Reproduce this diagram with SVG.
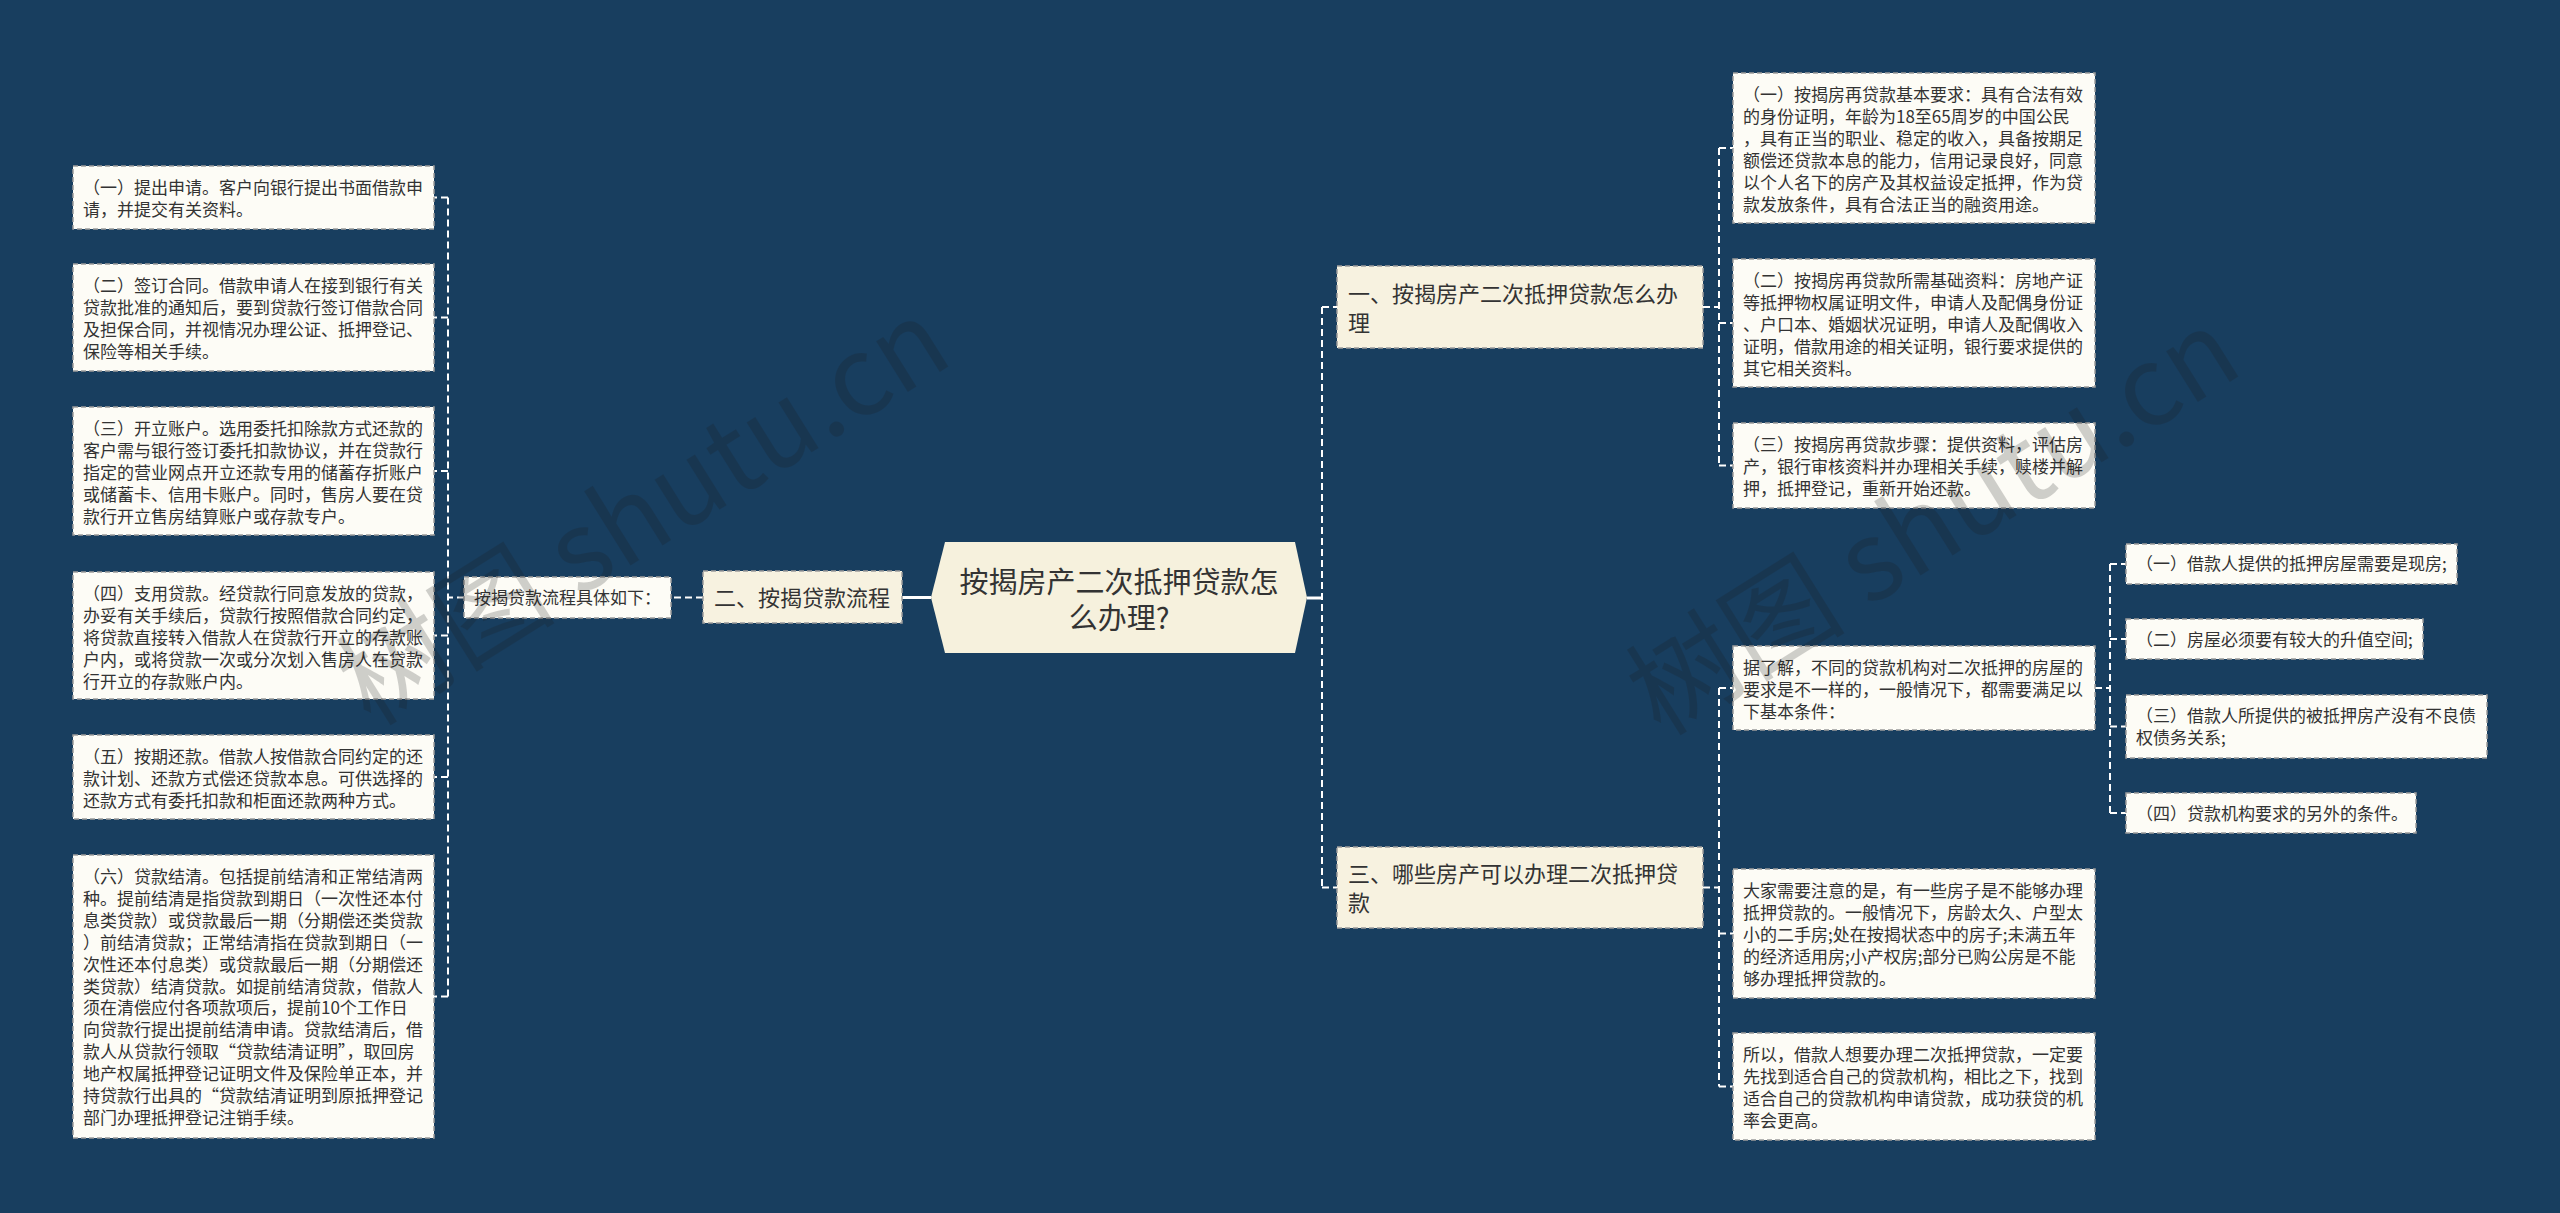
<svg xmlns="http://www.w3.org/2000/svg" width="2560" height="1213" viewBox="0 0 2560 1213">
<style>
.t{font-family:"Noto Sans CJK SC","Noto Sans",sans-serif;font-size:17px;fill:#333}
.t1{font-family:"Noto Sans CJK SC","Noto Sans",sans-serif;font-size:22px;fill:#333}
.tc{font-family:"Noto Sans CJK SC","Noto Sans",sans-serif;font-size:29px;fill:#333}
.leaf{fill:#FDFCF6;stroke:#9c9c9c;stroke-width:1.5;stroke-dasharray:5 3}
.lvl1{fill:#F7F2E0;stroke:#9c9c9c;stroke-width:1.5;stroke-dasharray:5 3}
.conn{fill:none;stroke:#ffffff;stroke-width:2;stroke-dasharray:7 4}
.solid{fill:none;stroke:#ffffff;stroke-width:3}
.wm{font-family:"Noto Sans CJK SC","Noto Sans",sans-serif;font-size:110px;fill:#1a1a1a;opacity:0.2}
</style>
<rect x="0" y="0" width="2560" height="1213" fill="#183E5F"/>

<g id="connectors">
<path class="solid" d="M902,597.5 H931"/>
<path class="conn" d="M703,597.5 H671"/>
<path class="conn" d="M464,597.5 H448"/>
<path class="conn" d="M448,197.5 V996.5"/>
<path class="conn" d="M448,197.5 H434 M448,317.5 H434 M448,471 H434 M448,635.5 H434 M448,777 H434 M448,996.5 H434"/>
<path class="solid" d="M1307,598 H1322"/>
<path class="conn" d="M1322,307 V887.5"/>
<path class="conn" d="M1322,307 H1337 M1322,887.5 H1337"/>
<path class="conn" d="M1703,307 H1719"/>
<path class="conn" d="M1719,148 V465.5"/>
<path class="conn" d="M1719,148 H1733 M1719,323 H1733 M1719,465.5 H1733"/>
<path class="conn" d="M1703,887.5 H1719"/>
<path class="conn" d="M1719,688 V1086.5"/>
<path class="conn" d="M1719,688 H1733 M1719,933.5 H1733 M1719,1086.5 H1733"/>
<path class="conn" d="M2095,688 H2110"/>
<path class="conn" d="M2110,564 V813"/>
<path class="conn" d="M2110,564 H2126 M2110,639 H2126 M2110,726.5 H2126 M2110,813 H2126"/>
</g>

<g id="node-center">
<polygon points="945,542 1295,542 1307,597.5 1295,653 945,653 931,597.5" fill="#F6F1DD"/>
<text class="tc" x="1119" y="593" text-anchor="middle">按揭房产二次抵押贷款怎</text>
<text class="tc" x="1119" y="629" text-anchor="middle">么办理?</text>
</g>

<g id="node-er">
<rect class="lvl1" x="703" y="571" width="199" height="52"/>
<text class="t1" x="714" y="605.5">二、按揭贷款流程</text>
</g>

<g id="node-mid">
<rect class="leaf" x="464" y="577" width="207" height="41"/>
<text class="t" x="474" y="604">按揭贷款流程具体如下：</text>
</g>

<g id="node-L1">
<rect class="leaf" x="73" y="166" width="361" height="63"/>
<text class="t" x="83" y="194"><tspan x="83">（一）提出申请。客户向银行提出书面借款申</tspan><tspan x="83" dy="21.9">请，并提交有关资料。</tspan></text>
</g>
<g id="node-L2">
<rect class="leaf" x="73" y="264" width="361" height="107"/>
<text class="t" x="83" y="292"><tspan x="83">（二）签订合同。借款申请人在接到银行有关</tspan><tspan x="83" dy="21.9">贷款批准的通知后，要到贷款行签订借款合同</tspan><tspan x="83" dy="21.9">及担保合同，并视情况办理公证、抵押登记、</tspan><tspan x="83" dy="21.9">保险等相关手续。</tspan></text>
</g>
<g id="node-L3">
<rect class="leaf" x="73" y="407" width="361" height="128"/>
<text class="t" x="83" y="435"><tspan x="83">（三）开立账户。选用委托扣除款方式还款的</tspan><tspan x="83" dy="21.9">客户需与银行签订委托扣款协议，并在贷款行</tspan><tspan x="83" dy="21.9">指定的营业网点开立还款专用的储蓄存折账户</tspan><tspan x="83" dy="21.9">或储蓄卡、信用卡账户。同时，售房人要在贷</tspan><tspan x="83" dy="21.9">款行开立售房结算账户或存款专户。</tspan></text>
</g>
<g id="node-L4">
<rect class="leaf" x="73" y="572" width="361" height="127"/>
<text class="t" x="83" y="600"><tspan x="83">（四）支用贷款。经贷款行同意发放的贷款，</tspan><tspan x="83" dy="21.9">办妥有关手续后，贷款行按照借款合同约定，</tspan><tspan x="83" dy="21.9">将贷款直接转入借款人在贷款行开立的存款账</tspan><tspan x="83" dy="21.9">户内，或将贷款一次或分次划入售房人在贷款</tspan><tspan x="83" dy="21.9">行开立的存款账户内。</tspan></text>
</g>
<g id="node-L5">
<rect class="leaf" x="73" y="735" width="361" height="84"/>
<text class="t" x="83" y="763"><tspan x="83">（五）按期还款。借款人按借款合同约定的还</tspan><tspan x="83" dy="21.9">款计划、还款方式偿还贷款本息。可供选择的</tspan><tspan x="83" dy="21.9">还款方式有委托扣款和柜面还款两种方式。</tspan></text>
</g>
<g id="node-L6">
<rect class="leaf" x="73" y="855" width="361" height="283"/>
<text class="t" x="83" y="883"><tspan x="83">（六）贷款结清。包括提前结清和正常结清两</tspan><tspan x="83" dy="21.9">种。提前结清是指贷款到期日（一次性还本付</tspan><tspan x="83" dy="21.9">息类贷款）或贷款最后一期（分期偿还类贷款</tspan><tspan x="83" dy="21.9">）前结清贷款；正常结清指在贷款到期日（一</tspan><tspan x="83" dy="21.9">次性还本付息类）或贷款最后一期（分期偿还</tspan><tspan x="83" dy="21.9">类贷款）结清贷款。如提前结清贷款，借款人</tspan><tspan x="83" dy="21.9">须在清偿应付各项款项后，提前10个工作日</tspan><tspan x="83" dy="21.9">向贷款行提出提前结清申请。贷款结清后，借</tspan><tspan x="83" dy="21.9">款人从贷款行领取“贷款结清证明”，取回房</tspan><tspan x="83" dy="21.9">地产权属抵押登记证明文件及保险单正本，并</tspan><tspan x="83" dy="21.9">持贷款行出具的“贷款结清证明到原抵押登记</tspan><tspan x="83" dy="21.9">部门办理抵押登记注销手续。</tspan></text>
</g>

<g id="node-yi">
<rect class="lvl1" x="1337" y="266" width="366" height="82"/>
<text class="t1" x="1348" y="301.5"><tspan x="1348">一、按揭房产二次抵押贷款怎么办</tspan><tspan x="1348" dy="29">理</tspan></text>
</g>
<g id="node-san">
<rect class="lvl1" x="1337" y="847" width="366" height="81"/>
<text class="t1" x="1348" y="881.5"><tspan x="1348">三、哪些房产可以办理二次抵押贷</tspan><tspan x="1348" dy="29">款</tspan></text>
</g>

<g id="node-R1">
<rect class="leaf" x="1733" y="73" width="362" height="150"/>
<text class="t" x="1743" y="101"><tspan x="1743">（一）按揭房再贷款基本要求：具有合法有效</tspan><tspan x="1743" dy="21.9">的身份证明，年龄为18至65周岁的中国公民</tspan><tspan x="1743" dy="21.9">，具有正当的职业、稳定的收入，具备按期足</tspan><tspan x="1743" dy="21.9">额偿还贷款本息的能力，信用记录良好，同意</tspan><tspan x="1743" dy="21.9">以个人名下的房产及其权益设定抵押，作为贷</tspan><tspan x="1743" dy="21.9">款发放条件，具有合法正当的融资用途。</tspan></text>
</g>
<g id="node-R2">
<rect class="leaf" x="1733" y="259" width="362" height="128"/>
<text class="t" x="1743" y="287"><tspan x="1743">（二）按揭房再贷款所需基础资料：房地产证</tspan><tspan x="1743" dy="21.9">等抵押物权属证明文件，申请人及配偶身份证</tspan><tspan x="1743" dy="21.9">、户口本、婚姻状况证明，申请人及配偶收入</tspan><tspan x="1743" dy="21.9">证明，借款用途的相关证明，银行要求提供的</tspan><tspan x="1743" dy="21.9">其它相关资料。</tspan></text>
</g>
<g id="node-R3">
<rect class="leaf" x="1733" y="423" width="362" height="85"/>
<text class="t" x="1743" y="451"><tspan x="1743">（三）按揭房再贷款步骤：提供资料，评估房</tspan><tspan x="1743" dy="21.9">产，银行审核资料并办理相关手续，赎楼并解</tspan><tspan x="1743" dy="21.9">押，抵押登记，重新开始还款。</tspan></text>
</g>
<g id="node-R4">
<rect class="leaf" x="1733" y="646" width="362" height="84"/>
<text class="t" x="1743" y="674"><tspan x="1743">据了解，不同的贷款机构对二次抵押的房屋的</tspan><tspan x="1743" dy="21.9">要求是不一样的，一般情况下，都需要满足以</tspan><tspan x="1743" dy="21.9">下基本条件：</tspan></text>
</g>
<g id="node-R5">
<rect class="leaf" x="1733" y="869" width="362" height="129"/>
<text class="t" x="1743" y="897"><tspan x="1743">大家需要注意的是，有一些房子是不能够办理</tspan><tspan x="1743" dy="21.9">抵押贷款的。一般情况下，房龄太久、户型太</tspan><tspan x="1743" dy="21.9">小的二手房;处在按揭状态中的房子;未满五年</tspan><tspan x="1743" dy="21.9">的经济适用房;小产权房;部分已购公房是不能</tspan><tspan x="1743" dy="21.9">够办理抵押贷款的。</tspan></text>
</g>
<g id="node-R6">
<rect class="leaf" x="1733" y="1033" width="362" height="107"/>
<text class="t" x="1743" y="1061"><tspan x="1743">所以，借款人想要办理二次抵押贷款，一定要</tspan><tspan x="1743" dy="21.9">先找到适合自己的贷款机构，相比之下，找到</tspan><tspan x="1743" dy="21.9">适合自己的贷款机构申请贷款，成功获贷的机</tspan><tspan x="1743" dy="21.9">率会更高。</tspan></text>
</g>

<g id="node-S1">
<rect class="leaf" x="2126" y="544" width="331" height="40"/>
<text class="t" x="2136" y="570">（一）借款人提供的抵押房屋需要是现房;</text>
</g>
<g id="node-S2">
<rect class="leaf" x="2126" y="619" width="297" height="40"/>
<text class="t" x="2136" y="645.5">（二）房屋必须要有较大的升值空间;</text>
</g>
<g id="node-S3">
<rect class="leaf" x="2126" y="695" width="361" height="63"/>
<text class="t" x="2136" y="722"><tspan x="2136">（三）借款人所提供的被抵押房产没有不良债</tspan><tspan x="2136" dy="21.9">权债务关系;</tspan></text>
</g>
<g id="node-S4">
<rect class="leaf" x="2126" y="793" width="290" height="40"/>
<text class="t" x="2136" y="819.5">（四）贷款机构要求的另外的条件。</text>
</g>

<g id="watermarks">
<text class="wm" x="645" y="550" text-anchor="middle" transform="rotate(-32 645 515)">树图 shutu.cn</text>
<text class="wm" x="1935" y="560" text-anchor="middle" transform="rotate(-32 1935 525)">树图 shutu.cn</text>
</g>
</svg>
